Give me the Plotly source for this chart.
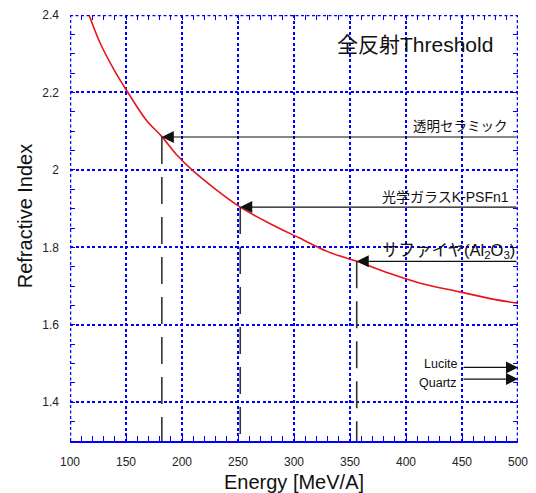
import plotly.graph_objects as go

# Threshold curve
energy = [117, 127, 140, 151, 168, 182, 195, 209, 230, 252, 280, 305, 330, 356, 385, 412, 448, 480, 500]
threshold_n = [2.400, 2.327, 2.255, 2.203, 2.129, 2.086, 2.040, 2.000, 1.950, 1.904,
               1.859, 1.824, 1.789, 1.764, 1.733, 1.708, 1.685, 1.665, 1.656]

# Materials with a threshold inside the range
mat_names = ["透明セラミック", "光学ガラスK-PSFn1", "サファイヤ(Al<sub>2</sub>O<sub>3</sub>)"]
mat_index = [2.085, 1.904, 1.764]
mat_threshold = [182, 252, 356]

# Materials below the range
low_names = ["Lucite", "Quartz"]
low_index = [1.49, 1.46]

x_ticks = [100, 150, 200, 250, 300, 350, 400, 450, 500]
y_ticks = [1.4, 1.6, 1.8, 2.0, 2.2, 2.4]
y_ticktext = ["1.4", "1.6", "1.8", "2", "2.2", "2.4"]

X_MIN, X_MAX = 100, 500
Y_MIN, Y_MAX = 1.3, 2.4

FONT = "Liberation Sans, Arial, Noto Sans CJK JP, sans-serif"
BLUE = "#0000FF"
GRIDDASH = "3px,2.5px"

fig = go.Figure()
fig.add_trace(go.Scatter(x=energy, y=threshold_n, mode="lines", line_shape="spline",
                         line=dict(color="#E8141B", width=1.6), showlegend=False))
# invisible trace for the secondary (mirror tick) axes
fig.add_trace(go.Scatter(x=[X_MIN], y=[Y_MIN], xaxis="x2", yaxis="y2", mode="markers",
                         marker=dict(opacity=0), showlegend=False, hoverinfo="skip"))

shapes = []
annotations = []
# vertical long-dashed drop lines
for e, n in zip(mat_threshold, mat_index):
    shapes.append(dict(type="line", xref="x", yref="y", x0=e, x1=e, y0=n, y1=Y_MIN,
                       line=dict(color="#333333", width=1.6, dash="27px,13px")))
# arrows from the right edge to the curve
label_x = [493, 494, 499.5]
label_size = [13.5, 14, 16.5]
for name, e, n, lx, fs in zip(mat_names, mat_threshold, mat_index, label_x, label_size):
    annotations.append(dict(x=e, y=n, ax=X_MAX, ay=n, xref="x", yref="y", axref="x", ayref="y",
                            text="", showarrow=True, arrowhead=2, arrowsize=2.0, arrowwidth=1.2,
                            arrowcolor="#111111"))
    annotations.append(dict(x=lx, y=n, xref="x", yref="y", text=name, showarrow=False,
                            xanchor="right", yanchor="middle", yshift=10,
                            font=dict(family=FONT, size=fs, color="#111111")))
# Lucite / Quartz arrows pointing right
low_shift = [3, -3.5]
for name, n, ys in zip(low_names, low_index, low_shift):
    annotations.append(dict(x=X_MAX, y=n, ax=450, ay=n, xref="x", yref="y", axref="x", ayref="y",
                            text="", showarrow=True, arrowhead=2, arrowsize=2.0, arrowwidth=1.2,
                            arrowcolor="#111111"))
    annotations.append(dict(x=447.5, y=n, xref="x", yref="y", text=name, showarrow=False,
                            xanchor="right", yanchor="middle", yshift=ys,
                            font=dict(family=FONT, size=12.5, color="#111111")))
# title inside the plot
annotations.append(dict(x=408, y=2.323, xref="x", yref="y", text="全反射Threshold", showarrow=False,
                        xanchor="center", yanchor="middle",
                        font=dict(family=FONT, size=21, color="#111111")))
# y axis title (placed as rotated annotation)
annotations.append(dict(x=-0.10, y=0.528, xref="paper", yref="paper", text="Refractive Index",
                        showarrow=False, textangle=-90, xanchor="center", yanchor="middle",
                        font=dict(family=FONT, size=20, color="#111111")))

# dotted frame on left, top, right
for (x0, x1, y0, y1) in [(X_MIN, X_MIN, Y_MIN, Y_MAX), (X_MIN, X_MAX, Y_MAX, Y_MAX),
                         (X_MAX, X_MAX, Y_MIN, Y_MAX)]:
    shapes.append(dict(type="line", xref="x", yref="y", x0=x0, x1=x1, y0=y0, y1=y1,
                       line=dict(color=BLUE, width=2.5, dash=GRIDDASH)))

tickfont = dict(family=FONT, size=12, color="#222222")
common_minor = dict(ticks="inside", ticklen=5, tickcolor=BLUE, tickwidth=1.2, showgrid=False)

fig.update_layout(
    width=528, height=485,
    margin=dict(l=62, r=18, t=7, b=52),
    paper_bgcolor="white", plot_bgcolor="white",
    shapes=shapes, annotations=annotations,
    xaxis=dict(range=[X_MIN, X_MAX], tickvals=x_ticks, ticks="inside", ticklen=5,
               tickcolor=BLUE, tickwidth=1.2, showline=True, linecolor=BLUE, linewidth=2,
               showgrid=True, gridcolor=BLUE, gridwidth=2.2, griddash=GRIDDASH,
               zeroline=False, tickfont=tickfont, ticklabelstandoff=9, automargin=False,
               ticklabeloverflow="allow",
               minor=dict(dtick=10, **common_minor),
               title=dict(text="Energy [MeV/A]", font=dict(family=FONT, size=20, color="#111111"),
                          standoff=23)),
    yaxis=dict(range=[Y_MIN, Y_MAX], tickvals=y_ticks, ticktext=y_ticktext, ticks="inside",
               ticklen=5, tickcolor=BLUE, tickwidth=1.2, showline=False, automargin=False,
               showgrid=True, gridcolor=BLUE, gridwidth=2.2, griddash=GRIDDASH,
               zeroline=False, tickfont=tickfont, ticklabelstandoff=10,
               ticklabeloverflow="allow",
               minor=dict(dtick=0.05, tick0=1.3, **common_minor)),
    xaxis2=dict(range=[X_MIN, X_MAX], overlaying="x", side="top", tickvals=x_ticks,
                ticks="inside", ticklen=5, tickcolor=BLUE, tickwidth=1.2, showticklabels=False,
                showgrid=False, zeroline=False, showline=False, automargin=False,
                minor=dict(dtick=10, **common_minor)),
    yaxis2=dict(range=[Y_MIN, Y_MAX], overlaying="y", side="right", tickvals=y_ticks,
                ticks="inside", ticklen=5, tickcolor=BLUE, tickwidth=1.2, showticklabels=False,
                showgrid=False, zeroline=False, showline=False, automargin=False,
                minor=dict(dtick=0.05, tick0=1.3, **common_minor)),
)

fig.write_html("out.html")
